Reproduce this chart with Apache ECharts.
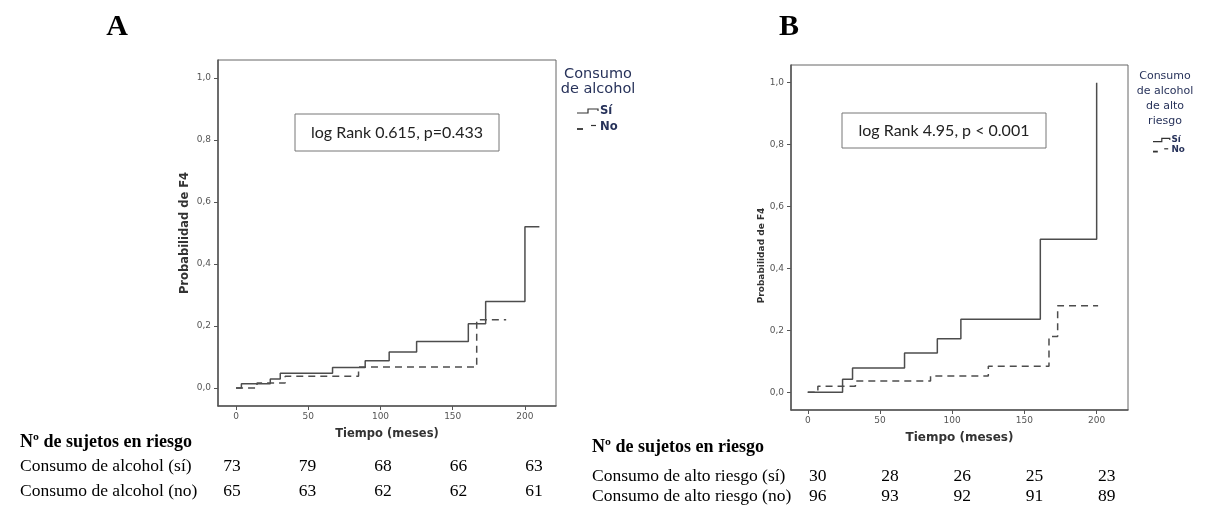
<!DOCTYPE html>
<html>
<head>
<meta charset="utf-8">
<script src="https://cdn.jsdelivr.net/npm/echarts@6/dist/echarts.min.js"></script>
<style>
  html, body { margin: 0; background: #fff; }
  #chart { width: 1212px; height: 505px; }
</style>
</head>
<body>
<div id="chart"></div>
<script>
// ticks
const timeTicks = [0, 50, 100, 150, 200]
const probTicks = [0, 0.2, 0.4, 0.6, 0.8, 1.0]

// panel A - consumo de alcohol, [tiempo, probabilidad]
const alcoholSi = [[0, 0], [3.7, 0.014], [23.7, 0.029], [30.6, 0.048], [66.8, 0.066], [89.4, 0.088], [106, 0.116], [125, 0.15], [160.8, 0.207], [172.8, 0.279], [200, 0.52], [210, 0.52]]
const alcoholNo = [[0, 0], [14.5, 0.016], [34, 0.038], [84.8, 0.068], [166.6, 0.22], [187, 0.22]]

// panel B - consumo de alto riesgo
const altoSi = [[0, 0], [24.1, 0.042], [31, 0.079], [67, 0.127], [89.7, 0.173], [106, 0.236], [161, 0.494], [200, 1.0]]
const altoNo = [[0, 0], [7, 0.02], [33, 0.037], [85, 0.053], [125, 0.084], [167, 0.18], [173, 0.28], [201, 0.28]]

// sujetos en riesgo
const riskTitle = 'Nº de sujetos en riesgo'
const riskLabelsA = ['Consumo de alcohol (sí)', 'Consumo de alcohol (no)']
const riskSiA = [73, 79, 68, 66, 63]
const riskNoA = [65, 63, 62, 62, 61]
const riskLabelsB = ['Consumo de alto riesgo (sí)', 'Consumo de alto riesgo (no)']
const riskSiB = [30, 28, 26, 25, 23]
const riskNoB = [96, 93, 92, 91, 89]

const annotA = 'log Rank 0.615, p=0.433'
const annotB = 'log Rank 4.95, p < 0.001'
const legendTitleA = 'Consumo\nde alcohol'
const legendTitleB = 'Consumo\nde alcohol\nde alto\nriesgo'

const lineColor = '#4d4d4d'
const axisColor = '#555'
const navy = '#27325a'

const chart = echarts.init(document.getElementById('chart'), null, { renderer: 'canvas' })

function xAxisOf(gridIndex, min, max, nameSize) {
  return {
    type: 'value',
    gridIndex,
    min,
    max,
    name: 'Tiempo (meses)',
    nameLocation: 'middle',
    nameGap: 22,
    nameTextStyle: { fontFamily: 'DejaVu Sans', fontWeight: 'bold', fontSize: nameSize, color: '#333' },
    axisLine: { show: true, onZero: false, lineStyle: { color: axisColor, width: 1.5 } },
    axisTick: { show: true, customValues: timeTicks, length: 4, lineStyle: { color: axisColor } },
    axisLabel: { customValues: timeTicks, fontFamily: 'DejaVu Sans', fontSize: 9, color: '#555', margin: 6 },
    splitLine: { show: false },
  }
}

function yAxisOf(gridIndex, min, max, nameSize, nameGap, padding) {
  return {
    type: 'value',
    gridIndex,
    min,
    max,
    name: 'Probabilidad de F4',
    nameLocation: 'middle',
    nameRotate: 90,
    nameGap,
    nameTextStyle: { fontFamily: 'DejaVu Sans', fontWeight: 'bold', fontSize: nameSize, color: '#333', padding },
    axisLine: { show: true, onZero: false, lineStyle: { color: axisColor, width: 1.5 } },
    axisTick: { show: true, customValues: probTicks, length: 4, lineStyle: { color: axisColor } },
    axisLabel: {
      customValues: probTicks,
      fontFamily: 'DejaVu Sans',
      fontSize: 9,
      color: '#555',
      margin: 7,
      formatter: (v) => v.toFixed(1).replace('.', ','),
    },
    splitLine: { show: false },
  }
}

function stepSeries(name, data, idx, dashed) {
  return {
    name,
    type: 'line',
    step: 'end',
    xAxisIndex: idx,
    yAxisIndex: idx,
    data,
    showSymbol: false,
    lineStyle: { color: lineColor, width: 1.5, type: dashed ? [7, 5] : 'solid' },
    animation: false,
  }
}

const option = {
  animation: false,
  backgroundColor: '#fff',
  grid: [
    { left: 218, top: 60, width: 338, height: 346, show: true, borderColor: '#666', borderWidth: 1 },
    { left: 791, top: 65, width: 337, height: 345, show: true, borderColor: '#666', borderWidth: 1 },
  ],
  xAxis: [xAxisOf(0, -12.5, 221.5, 11.5), xAxisOf(1, -11.6, 221.7, 12)],
  yAxis: [yAxisOf(0, -0.058, 1.058, 11.5, 27, 0), yAxisOf(1, -0.057, 1.057, 9, 21, [0, 36, 0, 0])],
  series: [
    stepSeries('Sí', alcoholSi, 0, false),
    stepSeries('No', alcoholNo, 0, true),
    stepSeries('Sí', altoSi, 1, false),
    stepSeries('No', altoNo, 1, true),
  ],
}

chart.setOption(option)

// extra graphics: panel letters, annotation boxes, legends, risk tables
function txt(x, y, text, style) {
  return { type: 'text', x, y, style: Object.assign({ text, fill: '#000', textVerticalAlign: 'middle' }, style), silent: true }
}

function legendBlock(x, ySi, yNo, title, titleY, titleX, size, lh, scale) {
  const s = scale
  return [
    txt(titleX, titleY, title, { fontFamily: 'DejaVu Sans', fontSize: size, fill: navy, textAlign: 'center', textVerticalAlign: 'top', lineHeight: lh }),
    { type: 'polyline', shape: { points: [[x, ySi + 2 * s], [x + 11 * s, ySi + 2 * s], [x + 11 * s, ySi - 2 * s], [x + 21 * s, ySi - 2 * s], [x + 21 * s, ySi]] }, style: { stroke: '#333', lineWidth: 1.2, fill: null }, silent: true },
    { type: 'line', shape: { x1: x, y1: yNo + 2 * s, x2: x + 6 * s, y2: yNo + 2 * s }, style: { stroke: '#333', lineWidth: 1.8 }, silent: true },
    { type: 'line', shape: { x1: x + 14 * s, y1: yNo - 1.5 * s, x2: x + 19 * s, y2: yNo - 1.5 * s }, style: { stroke: '#333', lineWidth: 1.2 }, silent: true },
    txt(x + 23 * s, ySi, 'Sí', { fontFamily: 'DejaVu Sans', fontSize: size * 0.8, fontWeight: 'bold', fill: navy }),
    txt(x + 23 * s, yNo, 'No', { fontFamily: 'DejaVu Sans', fontSize: size * 0.8, fontWeight: 'bold', fill: navy }),
  ]
}

function annotBox(x1, y1, x2, y2, text) {
  return [
    { type: 'rect', shape: { x: x1, y: y1, width: x2 - x1, height: y2 - y1 }, style: { fill: '#fff', stroke: '#777', lineWidth: 1 }, z: 10, silent: true },
    Object.assign(txt((x1 + x2) / 2, (y1 + y2) / 2, text, { fontFamily: 'Lato', fontSize: 16, fill: '#222', textAlign: 'center' }), { z: 11 }),
  ]
}

// table columns follow the time axis, slightly spread as in the original
function riskTable(gridIdx, labelX, headY, row1Y, row2Y, labels, si, no, spread, shift) {
  const serif = { fontFamily: 'Liberation Serif', fontSize: 17.5, fill: '#000' }
  const els = [
    txt(labelX, headY, riskTitle, { fontFamily: 'Liberation Serif', fontSize: 18, fontWeight: 'bold' }),
    txt(labelX, row1Y, labels[0], serif),
    txt(labelX, row2Y, labels[1], serif),
  ]
  timeTicks.forEach((t, i) => {
    const px = chart.convertToPixel({ xAxisIndex: gridIdx }, t * spread) + shift
    els.push(txt(px, row1Y, String(si[i]), Object.assign({ textAlign: 'center' }, serif)))
    els.push(txt(px, row2Y, String(no[i]), Object.assign({ textAlign: 'center' }, serif)))
  })
  return els
}

const graphics = [].concat(
  [
    txt(117, 27, 'A', { fontFamily: 'Liberation Serif', fontSize: 30, fontWeight: 'bold', textAlign: 'center' }),
    txt(789, 27, 'B', { fontFamily: 'Liberation Serif', fontSize: 30, fontWeight: 'bold', textAlign: 'center' }),
  ],
  annotBox(295, 114, 499, 151, annotA),
  annotBox(842, 113, 1046, 148, annotB),
  legendBlock(577, 111, 127, legendTitleA, 67, 598, 14.5, 15, 1),
  legendBlock(1153, 140, 150, legendTitleB, 69, 1165, 11, 15, 0.8),
  riskTable(0, 20, 442, 466, 491, riskLabelsA, riskSiA, riskNoA, 1.045, -4),
  riskTable(1, 592, 447, 476, 496, riskLabelsB, riskSiB, riskNoB, 1, 10)
)

chart.setOption({ graphic: graphics })
</script>
</body>
</html>
